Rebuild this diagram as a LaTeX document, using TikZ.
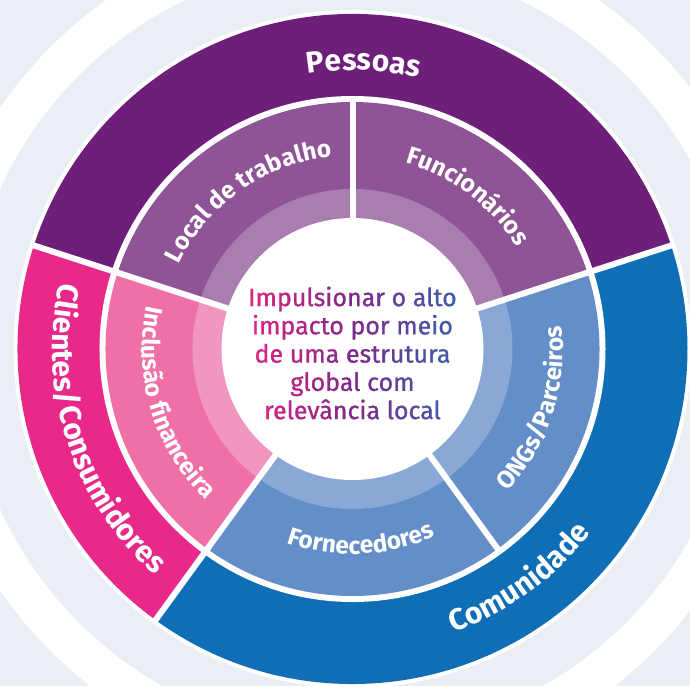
\documentclass[tikz,border=0pt]{standalone}
\usepackage{fontspec}
\setmainfont{Fira Sans}
\newfontfamily\centrofont[FakeBold=0.8]{Fira Sans}
\usetikzlibrary{decorations.text}
\definecolor{fundo}{RGB}{234,239,246}
\definecolor{pessoas}{RGB}{110,31,122}
\definecolor{pessoasmeio}{RGB}{143,84,150}
\definecolor{pessoasclaro}{RGB}{169,125,175}
\definecolor{clientes}{RGB}{232,41,138}
\definecolor{clientesmeio}{RGB}{239,111,167}
\definecolor{clientesclaro}{RGB}{241,150,190}
\definecolor{comunidade}{RGB}{15,110,181}
\definecolor{comunidademeio}{RGB}{99,142,200}
\definecolor{comunidadeclaro}{RGB}{137,168,214}
\definecolor{gradrosa}{RGB}{228,38,128}
\definecolor{gradroxo}{RGB}{126,42,136}
\definecolor{gradazul}{RGB}{55,98,172}
\newcommand{\rotuloexterno}{\bfseries\fontsize{30}{30}\selectfont}
\newcommand{\rotulointerno}{\bfseries\fontsize{24.5}{24.5}\selectfont}
\tikzset{
  externo/.style={decorate, decoration={text along path, text align=center, text color=white, text={|\rotuloexterno|#1}}},
  interno/.style={decorate, decoration={text along path, text align=center, text color=white, text={|\rotulointerno|#1}}},
  centrotexto/.style={align=center, inner sep=0pt, font=\centrofont\fontsize{25}{28.25}\selectfont},
  separador/.style={white, line width=6pt}
}
\begin{document}
\begin{tikzpicture}[x=1pt,y=1pt]
\coordinate (o) at (0,0);
\fill[fundo] (-352.5,-337) rectangle (337.5,349);
\useasboundingbox (-352.5,-337) rectangle (337.5,349);
\fill[white, even odd rule] (o) circle (427) (o) circle (387);
\fill[white] (o) circle (339);
\foreach \a/\b/\c in {18/162/pessoas, 162/234/clientes, 234/378/comunidade}
{
\fill[\c] (o) -- (\a:335) arc[start angle=\a, end angle=\b, radius=335] -- cycle;
}
\fill[white] (o) circle (253);
\foreach \a/\b/\c in {18/90/pessoasmeio, 90/162/pessoasmeio, 162/234/clientesmeio, 234/306/comunidademeio, 306/378/comunidademeio}
{
\fill[\c] (o) -- (\a:247) arc[start angle=\a, end angle=\b, radius=247] -- cycle;
}
\foreach \a/\b/\c in {18/162/pessoasclaro, 162/234/clientesclaro, 234/378/comunidadeclaro}
{
\fill[\c] (o) -- (\a:160) arc[start angle=\a, end angle=\b, radius=160] -- cycle;
}
\fill[white] (o) circle (131);
\foreach \a in {18,162,234}
{
\draw[separador] (\a:245) -- (\a:337);
}
\foreach \a in {18,90,162,234,306}
{
\draw[separador] (\a:125) -- (\a:250);
}
\path[externo=Pessoas] (147.7:279) arc[start angle=147.7, end angle=27.7, radius=279];
\path[externo=Clientes/Consumidores] (138:300) arc[start angle=138, end angle=258, radius=300];
\path[externo=Comunidade] (246:301) arc[start angle=246, end angle=366, radius=301];
\path[interno=Local de trabalho] (175:193.5) arc[start angle=175, end angle=75, radius=193.5];
\path[interno=Funcionários] (103:193.5) arc[start angle=103, end angle=3, radius=193.5];
\path[interno=Inclusão financeira] (147:210.5) arc[start angle=147, end angle=247, radius=210.5];
\path[interno=Fornecedores] (222.5:205) arc[start angle=222.5, end angle=322.5, radius=205];
\path[interno=ONGs/Parceiros] (292:210.5) arc[start angle=292, end angle=392, radius=210.5];
\foreach \i in {0,...,43}
{
\pgfmathsetmacro\xa{-110+5*\i}
\ifnum\i<22
\pgfmathtruncatemacro\m{100*\i/21}
\colorlet{tinta}{gradroxo!\m!gradrosa}
\else
\pgfmathtruncatemacro\m{100*(\i-22)/21}
\colorlet{tinta}{gradazul!\m!gradroxo}
\fi
\begin{scope}
\clip (\xa,-80) rectangle ++(5.3,160);
\node[centrotexto, text=tinta] (centro\i) at (0,-4) {Impulsionar o alto\\impacto por meio\\de uma estrutura\\global com\\relevância local};
\end{scope}
}
\end{tikzpicture}
\end{document}
